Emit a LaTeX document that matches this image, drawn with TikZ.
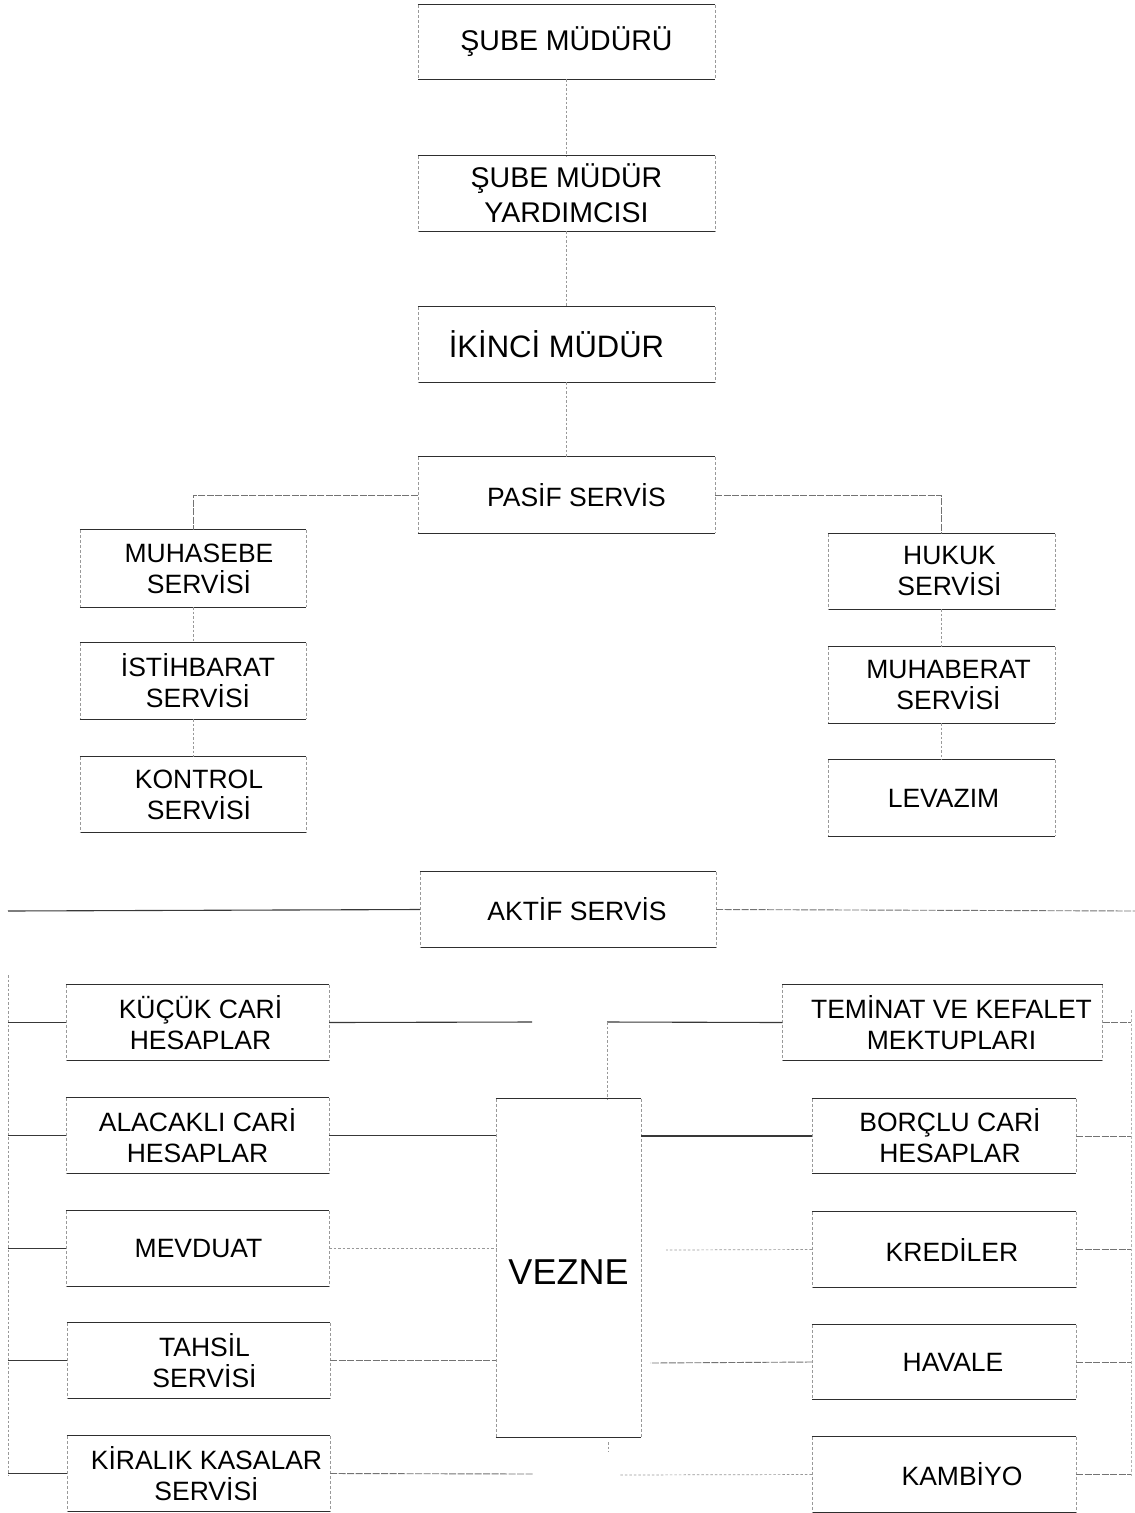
\documentclass[tikz,border=0pt]{standalone}
\usepackage{fontspec}
\setmainfont{Liberation Sans}
\begin{document}
\begin{tikzpicture}[x=1pt,y=-1pt,
  box/.style 2 args={inner sep=0pt,minimum width=#1pt,minimum height=#2pt},
  txt/.style={inner sep=0pt,align=center,xshift=#1pt,font=\fontsize{26.5}{31}\selectfont},
  txt/.default=0,
  toptxt/.style={txt=#1,font=\fontsize{28.5}{35}\selectfont},
  toptxt/.default=0,
  edgeline/.style={draw=black!82,line width=1.3pt},
  sideline/.style={draw=black!40,line width=0.6pt,dash pattern=on 3pt off 2pt},
  strong/.style={draw=black!78,line width=1.1pt},
  mid/.style={draw=black!55,line width=0.9pt,dash pattern=on 7pt off 1.5pt},
  faint/.style={draw=black!40,line width=0.7pt,dash pattern=on 2.5pt off 2pt}]
\useasboundingbox (0,0) rectangle (1135,1513);
\fill[white] (0,0) rectangle (1135,1513);

% frame: solid top and bottom rules, faint broken sides
\newcommand\orgframe[1]{%
  \draw[edgeline] (#1.north west) -- (#1.north east);
  \draw[edgeline] (#1.south west) -- (#1.south east);
  \draw[sideline] (#1.north west) -- (#1.south west);
  \draw[sideline] (#1.north east) -- (#1.south east);}

% management chain
\node[box={297}{74},label={[toptxt]center:ŞUBE MÜDÜRÜ}] (smd) at (566.5,42) {};
\node[box={297}{75},label={[toptxt]center:{ŞUBE MÜDÜR\\YARDIMCISI}}] (smy) at (566.5,193.5) {};
\node[box={297}{75},label={[toptxt=-10,font=\fontsize{31}{35}\selectfont]center:İKİNCİ MÜDÜR}] (ikinci) at (566.5,344.5) {};
\node[box={297}{76},label={[txt=10]center:PASİF SERVİS}] (pasif) at (566.5,495) {};

% passive services
\node[box={226}{77},label={[txt=6]center:{MUHASEBE\\SERVİSİ}}] (muh) at (193,568.5) {};
\node[box={226}{76},label={[txt=5]center:{İSTİHBARAT\\SERVİSİ}}] (ist) at (193,681) {};
\node[box={226}{75},label={[txt=6]center:{KONTROL\\SERVİSİ}}] (kon) at (193,794.5) {};
\node[box={227}{75},label={[txt=8]center:{HUKUK\\SERVİSİ}}] (huk) at (941.5,571.5) {};
\node[box={227}{76},label={[txt=7]center:{MUHABERAT\\SERVİSİ}}] (mhb) at (941.5,685) {};
\node[box={227}{76},label={[txt=2]center:LEVAZIM}] (lev) at (941.5,798) {};

% active services
\node[box={296}{75},label={[txt=9]center:AKTİF SERVİS}] (aktif) at (568,909.5) {};
\node[box={263}{75},label={[txt=3]center:{KÜÇÜK CARİ\\HESAPLAR}}] (kucuk) at (197.5,1022.5) {};
\node[box={263}{75},label={[txt=0]center:{ALACAKLI CARİ\\HESAPLAR}}] (alacak) at (197.5,1135.5) {};
\node[box={263}{75},label={[txt=1]center:MEVDUAT}] (mevduat) at (197.5,1248.5) {};
\node[box={263}{75},label={[txt=6]center:{TAHSİL\\SERVİSİ}}] (tahsil) at (198.5,1360.5) {};
\node[box={263}{75},label={[txt=8]center:{KİRALIK KASALAR\\SERVİSİ}}] (kiralik) at (198.5,1473.5) {};
\node[box={145}{338},label={[txt,yshift=-4pt,font=\fontsize{36}{40}\selectfont]center:VEZNE}] (vezne) at (568.5,1268) {};
\node[box={320}{75},label={[txt=9]center:{TEMİNAT VE KEFALET\\MEKTUPLARI}}] (teminat) at (942.5,1022.5) {};
\node[box={264}{74},label={[txt=6]center:{BORÇLU CARİ\\HESAPLAR}}] (borclu) at (944,1136) {};
\node[box={264}{75},label={[txt=8]center:KREDİLER}] (krediler) at (944,1249.5) {};
\node[box={264}{74},label={[txt=9]center:HAVALE}] (havale) at (944,1362) {};
\node[box={264}{75},label={[txt=18]center:KAMBİYO}] (kambiyo) at (944,1474.5) {};

\foreach \n in {smd,smy,ikinci,pasif,muh,ist,kon,huk,mhb,lev,aktif,kucuk,alacak,
  mevduat,tahsil,kiralik,vezne,teminat,borclu,krediler,havale,kambiyo}{\orgframe{\n}}

% free ends of the outer rails and open lines
\coordinate (lrtop) at (8,975);
\coordinate (lrbot) at (8,1476);
\coordinate (rrtop) at (1131,1010);
\coordinate (rrbot) at (1131,1476);
\coordinate (aktifL) at (8,911);
\coordinate (aktifR) at (1135,911);
\coordinate (kucukend) at (532,1022);
\coordinate (kiralikend) at (534,1474);
\coordinate (tjoint) at (607,1022);
\coordinate (kredend) at (666,1250);
\coordinate (havend) at (650,1363);
\coordinate (kambend) at (619,1475);
\coordinate (tickA) at (608,1442);
\coordinate (tickB) at (608,1452);

% chain of command
\draw[faint] (smd.south) -- (smy.north);
\draw[faint] (smy.south) -- (ikinci.north);
\draw[faint] (ikinci.south) -- (pasif.north);
\draw[mid] (pasif.west) -- (muh.north |- pasif.west) -- (muh.north);
\draw[mid] (pasif.east) -- (huk.north |- pasif.east) -- (huk.north);
\draw[faint] (muh.south) -- (ist.north);
\draw[faint] (ist.south) -- (kon.north);
\draw[faint] (huk.south) -- (mhb.north);
\draw[faint] (mhb.south) -- (lev.north);

% active service lines
\draw[strong] (aktifL) -- (aktif.west);
\draw[mid] (aktif.east) -- (aktifR);
\draw[faint] (lrtop) -- (lrbot);
\draw[faint,draw=black!30] (rrtop) -- (rrbot);
\foreach \n in {kucuk,alacak,mevduat,tahsil,kiralik}{\draw[strong] (lrtop |- \n.west) -- (\n.west);}
\foreach \n in {teminat,borclu,krediler,havale,kambiyo}{\draw[mid] (\n.east) -- (rrtop |- \n.east);}
\draw[strong] (kucuk.east) -- (kucukend);
\draw[strong] (alacak.east) -- (vezne.west |- alacak.east);
\draw[faint] (mevduat.east) -- (vezne.west |- mevduat.east);
\draw[mid] (tahsil.east) -- (vezne.west |- tahsil.east);
\draw[mid] (kiralik.east) -- (kiralikend);
\draw[strong] (teminat.west) -- (tjoint);
\draw[faint] (tjoint) -- (tjoint |- vezne.north);
\draw[strong] (borclu.west) -- (vezne.east |- borclu.west);
\draw[faint] (krediler.west) -- (kredend);
\draw[mid] (havale.west) -- (havend);
\draw[faint] (kambiyo.west) -- (kambend);
\draw[faint] (tickA) -- (tickB);
\end{tikzpicture}
\end{document}
